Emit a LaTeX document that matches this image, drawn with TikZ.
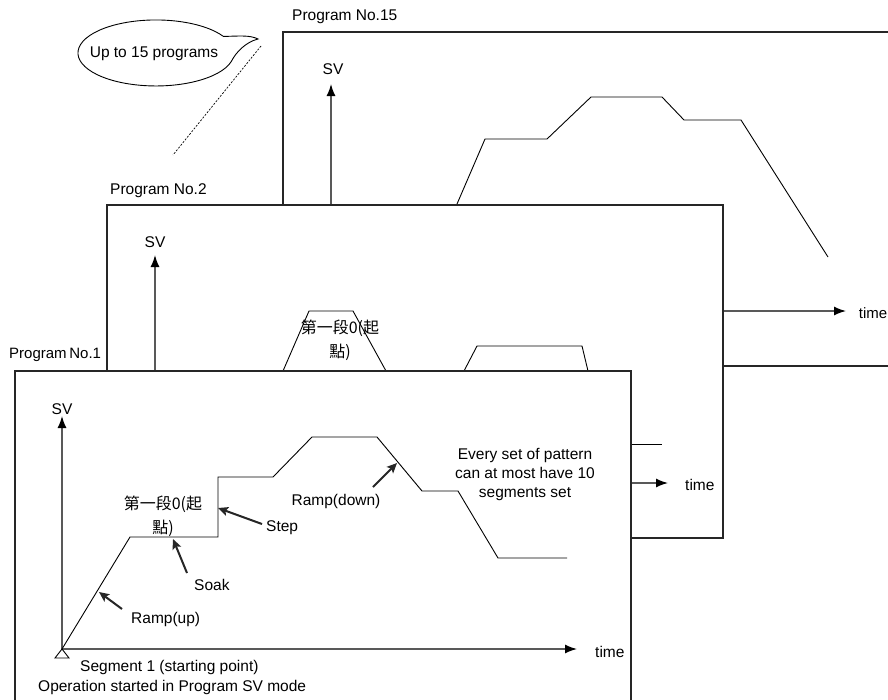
\documentclass[tikz,border=0pt]{standalone}
\usepackage{fontspec}
\setmainfont{Liberation Sans}
\newfontfamily\cjk{Noto Sans CJK TC}
\usetikzlibrary{arrows.meta}
\begin{document}
\begin{tikzpicture}[x=1pt,y=-1pt,
  every node/.style={inner sep=0pt, font=\fontsize{15.5}{19}\selectfont},
  box/.style={draw=black!85, line width=1.2pt, fill=white},
  axis/.style={draw=black!65, line width=1.4pt, -{Latex[length=12pt,width=9pt,fill=black,color=black]}},
  prof/.style={draw=black, line width=0.9pt},
  note/.style={draw=black!85, line width=2pt, -{Stealth[length=10pt,width=9pt,inset=2pt]}},
  cjklbl/.style={font=\cjk\fontsize{16}{24}\selectfont, align=center}]
\useasboundingbox (0,0) rectangle (888,699);
\clip (0,0) rectangle (888,699);
\fill[white] (0,0) rectangle (888,699);

% callout bubble
\draw[line width=0.9pt] (231.3,61.5) arc[start angle=15,end angle=330,x radius=78,y radius=33]
  .. controls (240,36) and (250,35) .. (258,39)
  .. controls (246,42) and (236,52) .. (231.3,61.5);
\node (callout) at (154,54) {Up to 15 programs};
\coordinate (d1) at (261,46);
\coordinate (d2) at (173,155);
\draw[line width=0.7pt, dash pattern=on 2pt off 1.5pt] (d1) -- (d2);

% ---------- Program 15 ----------
\draw[box] (283,32) rectangle (900,366);
\node[anchor=west] (p15) at (292,17) {Program No.15};
\coordinate (o15) at (331,311);
\coordinate (sv15) at (331,84);
\coordinate (t15) at (846,311);
\draw[axis] (o15) -- (sv15);
\draw[axis] (o15) -- (t15);
\node (sv15l) at (333,69) {SV};
\node[anchor=east, font=\fontsize{15}{19}\selectfont] (time15) at (887.5,313) {time};
\draw[prof] (441.5,240) -- (485,139) -- (547,139) -- (591,97) -- (662,97) -- (684,120) -- (741,120) -- (828,257);

% ---------- Program 2 ----------
\draw[box] (107,205) rectangle (723,538);
\node[anchor=west] (p2) at (110,191) {Program No.2};
\coordinate (o2) at (155,483);
\coordinate (sv2) at (155,255);
\coordinate (t2) at (668,483);
\draw[axis] (o2) -- (sv2);
\draw[axis] (o2) -- (t2);
\node (sv2l) at (155,242) {SV};
\node[anchor=west] (time2) at (685,485) {time};
\draw[prof] (283,371) -- (309,311) -- (353,311) -- (386,371);
\draw[prof] (464,371) -- (477,346) -- (582,346) -- (588,371);
\draw[prof] (600,444) -- (662,444);
\node[cjklbl] (seg2) at (340,340) {第一段0(起\\點)};

% ---------- Program 1 ----------
\draw[box] (15,371) rectangle (631,720);
\node[anchor=west, font=\fontsize{15}{19}\selectfont] (p1) at (9,355) {Program\hspace{-1.5pt} No.1};
\coordinate (o1) at (62,649);
\coordinate (sv1) at (62,416);
\coordinate (t1) at (577,649);
\draw[axis] (o1) -- (sv1);
\draw[axis] (o1) -- (t1);
\node (sv1l) at (62,409) {SV};
\node[anchor=west] (time1) at (595,652) {time};
\draw[line width=0.9pt] (o1) -- (55,658) -- (69,658) -- cycle;
\draw[prof] (o1) -- (130,537) -- (218,537) -- (218,477) -- (273,477) -- (312,437) -- (377,437) -- (422,491) -- (458,491) -- (498,558) -- (567,558);

\node[cjklbl] (seg1) at (163,516) {第一段0(起\\點)};
\node[anchor=west] (step) at (266,528) {Step};
\node[anchor=west] (soak) at (194,585) {Soak};
\node[anchor=west] (rampup) at (131,619) {Ramp(up)};
\node (rampdown) at (336,501) {Ramp(down)};
\node[align=center] (every) at (525,474) {Every set of pattern\\can at most have 10\\segments set};
\node[anchor=west] (segment) at (80,667) {Segment 1 (starting point)};
\node[anchor=west] (oper) at (38,687) {Operation started in Program SV mode};

\coordinate (a1s) at (122,609); \coordinate (a1e) at (99,592);
\coordinate (a2s) at (187,573); \coordinate (a2e) at (173,539);
\coordinate (a3s) at (262,524); \coordinate (a3e) at (218,508);
\coordinate (a4s) at (373,487); \coordinate (a4e) at (397,463);
\draw[note] (a1s) -- (a1e);
\draw[note] (a2s) -- (a2e);
\draw[note] (a3s) -- (a3e);
\draw[note] (a4s) -- (a4e);
\end{tikzpicture}
\end{document}
